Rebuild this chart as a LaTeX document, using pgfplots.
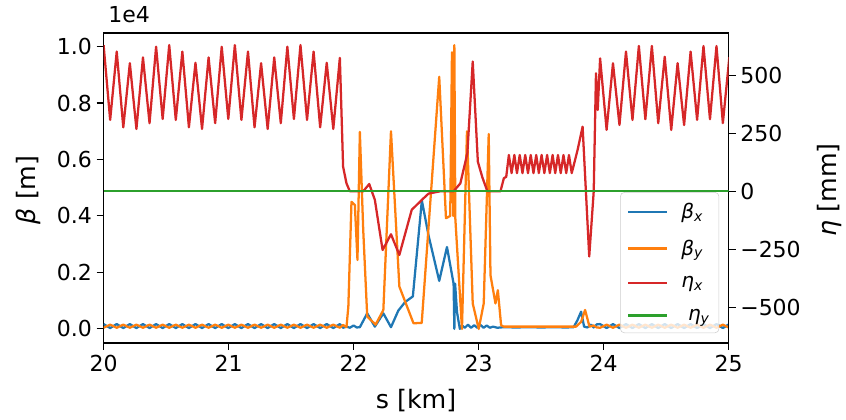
\documentclass[border=0pt]{standalone}
\usepackage{fontspec}
\setmainfont{DejaVu Sans}
\usepackage{pgfplots}
\pgfplotsset{compat=1.18}

\definecolor{tabblue}{HTML}{1F77B4}
\definecolor{taborange}{HTML}{FF7F0E}
\definecolor{tabgreen}{HTML}{2CA02C}
\definecolor{tabred}{HTML}{D62728}

\newcommand{\ticksize}{\fontsize{16.5}{19}\selectfont}
\newcommand{\labsize}{\fontsize{19}{22}\selectfont}

\pgfplotsset{
  twin/.style={
    scale only axis, width=468.75pt, height=232.5pt,
    xmin=20, xmax=25,
    axis line style={line width=0.8pt},
    tick style={line width=0.8pt, black},
    major tick length=5.25pt, tick align=outside,
    ticklabel style={font=\ticksize},
    label style={font=\labsize},
    /pgf/number format/assume math mode=true,
    clip mode=individual,
    every axis plot/.append style={line width=1.7pt, line join=round},
    legend image code/.code={\draw[#1] (0pt,0pt) -- (29pt,0pt);},
  },
}

\begin{document}
\begin{tikzpicture}
\path[use as bounding box] (-77.7pt,-57.75pt) rectangle (556.8pt,257.25pt);

% beta functions, left axis (units of 1e4 m)
\begin{axis}[twin,
  ymin=-0.05, ymax=1.048,
  ytick={0,0.2,0.4,0.6,0.8,1}, yticklabels={0.0,0.2,0.4,0.6,0.8,1.0},
  xtick={20,21,22,23,24,25},
  xtick pos=bottom, ytick pos=left,
  xlabel={s [km]}, ylabel={{\itshape β} [m]},
  xlabel style={at={(axis description cs:0.5,-0.187)}, anchor=center},
  ylabel style={at={(axis description cs:-0.120,0.494)}, anchor=center},
]
% beta_x
\addplot[tabblue] coordinates {
(20.000,0.017) (20.0525,0.003) (20.105,0.017) (20.1575,0.003) (20.210,0.017) (20.2625,0.003) (20.315,0.017) (20.3675,0.003) (20.420,0.017) (20.4725,0.003)
(20.525,0.017) (20.5775,0.003) (20.630,0.017) (20.6825,0.003) (20.735,0.017) (20.7875,0.003) (20.840,0.017) (20.8925,0.003) (20.945,0.017) (20.9975,0.003)
(21.050,0.017) (21.1025,0.003) (21.155,0.017) (21.2075,0.003) (21.260,0.017) (21.3125,0.003) (21.365,0.017) (21.4175,0.003) (21.470,0.017) (21.5225,0.003)
(21.575,0.017) (21.6275,0.003) (21.680,0.017) (21.7325,0.003) (21.785,0.017) (21.8375,0.003) (21.890,0.017)
(21.916,0.004) (21.943,0.008) (21.970,0.004) (22.000,0.012) (22.025,0.005) (22.050,0.006) (22.109,0.055) (22.170,0.008)
(22.238,0.055) (22.299,0.006) (22.358,0.065) (22.412,0.095) (22.474,0.115) (22.546,0.455) (22.600,0.330) (22.685,0.170)
(22.747,0.290) (22.800,0.160) (22.806,0.000) (22.812,0.160) (22.827,0.060) (22.850,0.000) (22.867,0.012) (22.890,0.004)
(22.915,0.015) (22.940,0.004) (22.965,0.013) (22.990,0.004) (23.015,0.014) (23.040,0.004) (23.065,0.012) (23.090,0.004)
(23.115,0.008) (23.150,0.004) (23.200,0.006) (23.300,0.005) (23.400,0.006) (23.500,0.005) (23.600,0.006) (23.700,0.005)
(23.760,0.006) (23.790,0.030) (23.820,0.061) (23.844,0.008) (23.870,0.005) (23.900,0.015) (23.920,0.005) (23.946,0.016)
(23.972,0.017) (24.024,0.003) (24.075,0.017) (24.127,0.003) (24.179,0.017) (24.231,0.003) (24.282,0.017) (24.334,0.003) (24.386,0.017) (24.437,0.003)
(24.489,0.017) (24.541,0.003) (24.592,0.017) (24.644,0.003) (24.696,0.017) (24.748,0.003) (24.799,0.017) (24.851,0.003) (24.903,0.017) (24.954,0.003) (25.006,0.017)
};
% beta_y
\addplot[taborange] coordinates {
(20.000,0.004) (20.0525,0.015) (20.105,0.004) (20.1575,0.015) (20.210,0.004) (20.2625,0.015) (20.315,0.004) (20.3675,0.015) (20.420,0.004) (20.4725,0.015)
(20.525,0.004) (20.5775,0.015) (20.630,0.004) (20.6825,0.015) (20.735,0.004) (20.7875,0.015) (20.840,0.004) (20.8925,0.015) (20.945,0.004) (20.9975,0.015)
(21.050,0.004) (21.1025,0.015) (21.155,0.004) (21.2075,0.015) (21.260,0.004) (21.3125,0.015) (21.365,0.004) (21.4175,0.015) (21.470,0.004) (21.5225,0.015)
(21.575,0.004) (21.6275,0.015) (21.680,0.004) (21.7325,0.015) (21.785,0.004) (21.8375,0.015) (21.890,0.004)
(21.916,0.014) (21.943,0.006) (21.958,0.079) (21.983,0.450) (22.010,0.439) (22.031,0.244) (22.050,0.698) (22.077,0.350)
(22.109,0.044) (22.176,0.015) (22.238,0.067) (22.299,0.700) (22.366,0.150) (22.479,0.020) (22.545,0.021) (22.685,0.893)
(22.739,0.392) (22.773,0.400) (22.787,0.980) (22.797,0.400) (22.806,1.005) (22.814,0.390) (22.867,0.000) (22.907,0.700)
(22.953,0.090) (23.001,0.000) (23.041,0.090) (23.081,0.690) (23.095,0.190) (23.135,0.090) (23.154,0.137) (23.180,0.013)
(23.200,0.008) (23.400,0.008) (23.600,0.008) (23.780,0.008) (23.820,0.025) (23.852,0.067) (23.887,0.008) (23.920,0.012) (23.946,0.005)
(23.972,0.004) (24.024,0.015) (24.075,0.004) (24.127,0.015) (24.179,0.004) (24.231,0.015) (24.282,0.004) (24.334,0.015) (24.386,0.004) (24.437,0.015)
(24.489,0.004) (24.541,0.015) (24.592,0.004) (24.644,0.015) (24.696,0.004) (24.748,0.015) (24.799,0.004) (24.851,0.015) (24.903,0.004) (24.954,0.015) (25.006,0.004)
};
\node[anchor=base west, font=\ticksize] at (rel axis cs:0,1) [yshift=8pt] {1e4};
\end{axis}

% dispersion, right axis
\begin{axis}[twin,
  axis x line=none, axis y line*=right,
  ymin=-653, ymax=681,
  ytick={-500,-250,0,250,500}, yticklabels={−500,−250,0,250,500},
  ylabel={{\itshape η} [mm]},
  ylabel style={at={(axis description cs:1.162,0.494)}, anchor=center},
  legend cell align=left,
  legend style={at={(0.985,0.032)}, anchor=south east,
    fill=white, fill opacity=0.8, text opacity=1, draw=black!20, draw opacity=1,
    rounded corners=3pt, font=\fontsize{15}{17}\selectfont,
    row sep=10.5pt, inner xsep=5pt, inner ysep=6pt,
    /tikz/every odd column/.append style={column sep=8pt}},
]
\addlegendimage{tabblue, line width=1.7pt}
\addlegendentry{{\itshape β}\textsubscript{\itshape x}}
\addlegendimage{taborange, line width=1.7pt}
\addlegendentry{{\itshape β}\textsubscript{\itshape y}}
% eta_x
\addplot[tabred] coordinates {
(20.000,629) (20.0525,307) (20.105,601) (20.1575,275) (20.210,551) (20.2625,268) (20.315,576) (20.3675,293) (20.420,622) (20.4725,311)
(20.525,629) (20.5775,307) (20.630,601) (20.6825,275) (20.735,553) (20.7875,268) (20.840,576) (20.8925,293) (20.945,622) (20.9975,311)
(21.050,629) (21.1025,307) (21.155,601) (21.2075,275) (21.260,551) (21.3125,268) (21.365,576) (21.4175,293) (21.470,622) (21.5225,311)
(21.575,629) (21.6275,307) (21.680,601) (21.7325,275) (21.785,553) (21.8375,268) (21.890,574)
(21.916,106) (21.943,34) (21.970,0) (22.077,0) (22.125,31) (22.170,-37) (22.232,-253) (22.299,-185) (22.366,-274)
(22.465,-80) (22.546,-37) (22.600,-10) (22.693,0) (22.800,0) (22.854,34) (22.910,163) (22.953,558) (22.994,127)
(23.030,60) (23.070,0) (23.175,0) (23.202,56) (23.221,62)
(23.242,156) (23.264,78) (23.286,156) (23.307,78) (23.329,156) (23.351,78) (23.373,156) (23.395,78) (23.417,156) (23.439,78)
(23.461,156) (23.482,78) (23.504,156) (23.526,78) (23.548,156) (23.570,78) (23.592,156) (23.613,78) (23.635,156) (23.657,78)
(23.679,156) (23.701,78) (23.723,156) (23.745,78)
(23.792,178) (23.832,278) (23.885,-281) (23.921,0) (23.939,508) (23.953,350)
(23.972,572) (24.024,264) (24.075,551) (24.127,285) (24.179,601) (24.231,307) (24.282,625) (24.334,310) (24.386,625) (24.437,293)
(24.489,579) (24.541,264) (24.592,551) (24.644,285) (24.696,601) (24.748,307) (24.799,625) (24.851,310) (24.903,625) (24.954,293) (25.006,577)
};
\addlegendentry{{\itshape η}\textsubscript{\itshape x}}
% eta_y
\addplot[tabgreen] coordinates {(20,0) (25,0)};
\addlegendentry{\hspace{5pt}{\itshape η}\textsubscript{\itshape y}}
\end{axis}
\end{tikzpicture}
\end{document}
